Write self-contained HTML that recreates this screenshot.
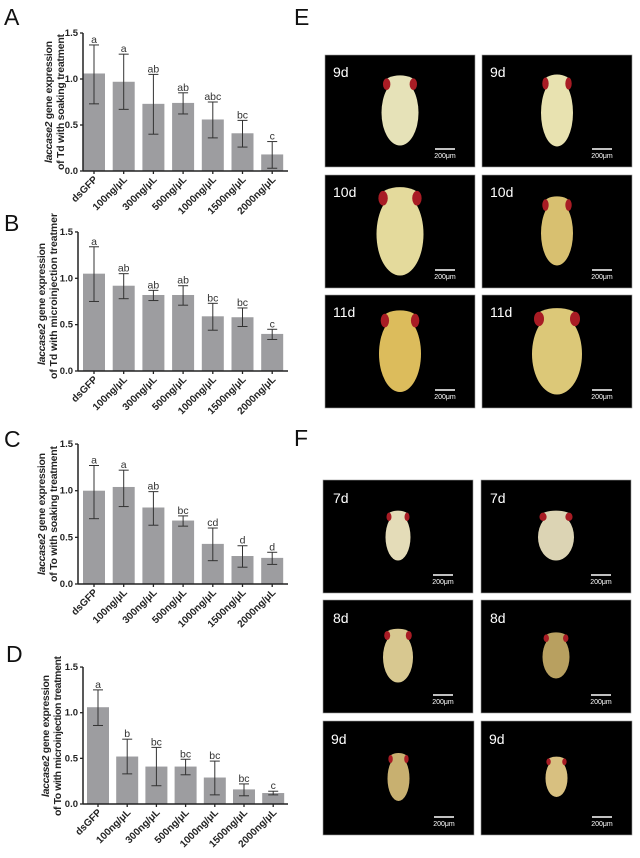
<!DOCTYPE html>
<html><head><meta charset="utf-8"><style>
html,body{margin:0;padding:0;background:#fff;}
svg{display:block;font-family:"Liberation Sans",Arial,sans-serif;}
.yt text{font-size:9.5px;font-weight:bold;text-anchor:end;fill:#222;}
.xl text{font-size:10px;font-weight:bold;text-anchor:end;fill:#222;}
.lt text{font-size:10.5px;text-anchor:middle;fill:#333;}
.yl{font-size:10.5px;font-weight:bold;text-anchor:middle;fill:#222;}
.pl{font-size:23px;fill:#111;}
.ph{font-size:14px;fill:#fff;}
.sb{font-size:7px;fill:#fff;text-anchor:middle;}
</style></head><body>
<svg id="s" width="640" height="858" viewBox="0 0 640 858">
<text class="pl" x="4" y="25">A</text>
<text class="pl" x="4" y="231">B</text>
<text class="pl" x="4" y="447">C</text>
<text class="pl" x="6" y="662">D</text>
<text class="pl" x="294" y="25">E</text>
<text class="pl" x="294" y="446">F</text>

<g id="c0"><g class="yt"><text>0.0</text><text>0.5</text><text>1.0</text><text>1.5</text></g>
<g class="xl"><text>dsGFP</text><text>100ng/μL</text><text>300ng/μL</text><text>500ng/μL</text><text>1000ng/μL</text><text>1500ng/μL</text><text>2000ng/μL</text></g>
<g class="lt"><text>a</text><text>a</text><text>ab</text><text>ab</text><text>abc</text><text>bc</text><text>c</text></g>
<text class="yl" transform="translate(52,102) rotate(-90)" textLength="122"><tspan font-style="italic">laccase2</tspan> gene expression</text>
<text class="yl" transform="translate(64,102) rotate(-90)" textLength="136">of Td with soaking treatment</text></g>

<g id="c1"><g class="yt"><text>0.0</text><text>0.5</text><text>1.0</text><text>1.5</text></g>
<g class="xl"><text>dsGFP</text><text>100ng/μL</text><text>300ng/μL</text><text>500ng/μL</text><text>1000ng/μL</text><text>1500ng/μL</text><text>2000ng/μL</text></g>
<g class="lt"><text>a</text><text>ab</text><text>ab</text><text>ab</text><text>bc</text><text>bc</text><text>c</text></g>
<text class="yl" transform="translate(45,304) rotate(-90)" textLength="122"><tspan font-style="italic">laccase2</tspan> gene expression</text>
<text class="yl" transform="translate(57,296) rotate(-90)" textLength="166">of Td with microinjection treatmer</text></g>

<g id="c2"><g class="yt"><text>0.0</text><text>0.5</text><text>1.0</text><text>1.5</text></g>
<g class="xl"><text>dsGFP</text><text>100ng/μL</text><text>300ng/μL</text><text>500ng/μL</text><text>1000ng/μL</text><text>1500ng/μL</text><text>2000ng/μL</text></g>
<g class="lt"><text>a</text><text>a</text><text>ab</text><text>bc</text><text>cd</text><text>d</text><text>d</text></g>
<text class="yl" transform="translate(45,514) rotate(-90)" textLength="122"><tspan font-style="italic">laccase2</tspan> gene expression</text>
<text class="yl" transform="translate(57,514) rotate(-90)" textLength="136">of To with soaking treatment</text></g>

<g id="c3"><g class="yt"><text>0.0</text><text>0.5</text><text>1.0</text><text>1.5</text></g>
<g class="xl"><text>dsGFP</text><text>100ng/μL</text><text>300ng/μL</text><text>500ng/μL</text><text>1000ng/μL</text><text>1500ng/μL</text><text>2000ng/μL</text></g>
<g class="lt"><text>a</text><text>b</text><text>bc</text><text>bc</text><text>bc</text><text>bc</text><text>c</text></g>
<text class="yl" transform="translate(49,736) rotate(-90)" textLength="122"><tspan font-style="italic">laccase2</tspan> gene expression</text>
<text class="yl" transform="translate(61,736) rotate(-90)" textLength="160">of To with microinjection treatment</text></g>

<g id="photos">
<text class="ph" x="333" y="77">9d</text><text class="ph" x="490" y="77">9d</text>
<text class="ph" x="333" y="197">10d</text><text class="ph" x="490" y="197">10d</text>
<text class="ph" x="333" y="317">11d</text><text class="ph" x="490" y="317">11d</text>
<text class="ph" x="333" y="503">7d</text><text class="ph" x="490" y="503">7d</text>
<text class="ph" x="333" y="623">8d</text><text class="ph" x="490" y="623">8d</text>
<text class="ph" x="331" y="744">9d</text><text class="ph" x="489" y="744">9d</text>
</g>
<g id="sbs">
<text class="sb">200μm</text><text class="sb">200μm</text><text class="sb">200μm</text><text class="sb">200μm</text><text class="sb">200μm</text><text class="sb">200μm</text>
<text class="sb">200μm</text><text class="sb">200μm</text><text class="sb">200μm</text><text class="sb">200μm</text><text class="sb">200μm</text><text class="sb">200μm</text>
</g>
</svg>
<script>
var NS="http://www.w3.org/2000/svg",S=document.getElementById("s");
function el(t,a,p){var e=document.createElementNS(NS,t);for(var k in a)e.setAttribute(k,a[k]);(p||S).appendChild(e);return e;}
var C=[
{y0:171,k:92,ax:83,cx:94,dx:29.7,v:[1.06,0.97,0.73,0.74,0.56,0.41,0.18],t:[1.37,1.27,1.05,0.85,0.75,0.55,0.32],b:[0.73,0.67,0.40,0.62,0.36,0.26,0.03]},
{y0:371,k:92.7,ax:78,cx:94,dx:29.7,v:[1.05,0.92,0.82,0.82,0.59,0.58,0.40],t:[1.34,1.05,0.87,0.92,0.73,0.68,0.45],b:[0.75,0.78,0.76,0.71,0.44,0.48,0.34]},
{y0:584,k:93.3,ax:78,cx:94,dx:29.7,v:[1.0,1.04,0.82,0.68,0.43,0.30,0.28],t:[1.27,1.22,0.99,0.73,0.60,0.41,0.34],b:[0.70,0.83,0.63,0.62,0.25,0.18,0.21]},
{y0:804,k:91.3,ax:83,cx:98,dx:29.2,v:[1.06,0.52,0.41,0.41,0.29,0.16,0.12],t:[1.25,0.71,0.62,0.49,0.47,0.22,0.14],b:[0.86,0.33,0.20,0.32,0.10,0.09,0.10]}];
C.forEach(function(c,ci){
 var g=document.getElementById("c"+ci),Y=function(v){return c.y0-v*c.k;};
 var yt=g.querySelector(".yt").children,xl=g.querySelector(".xl").children,lt=g.querySelector(".lt").children;
 for(var i=0;i<4;i++){var y=Y(i*0.5);yt[i].setAttribute("x",c.ax-5);yt[i].setAttribute("y",y+3);el("line",{x1:c.ax-3,x2:c.ax,y1:y,y2:y,stroke:"#222","stroke-width":1.3});}
 for(var i=0;i<7;i++){var x=c.cx+c.dx*i;
  el("rect",{x:x-11,y:Y(c.v[i]),width:22,height:c.v[i]*c.k,fill:"#9d9da0"});
  el("line",{x1:x,x2:x,y1:Y(c.t[i]),y2:Y(c.b[i]),stroke:"#333","stroke-width":1});
  el("line",{x1:x-5,x2:x+5,y1:Y(c.t[i]),y2:Y(c.t[i]),stroke:"#333","stroke-width":1});
  el("line",{x1:x-5,x2:x+5,y1:Y(c.b[i]),y2:Y(c.b[i]),stroke:"#333","stroke-width":1});
  el("line",{x1:x,x2:x,y1:c.y0,y2:c.y0+3,stroke:"#222","stroke-width":1.3});
  lt[i].setAttribute("x",x);lt[i].setAttribute("y",Y(c.t[i])-2);
  xl[i].setAttribute("transform","translate("+(x+4)+","+(c.y0+9)+") rotate(-45)");}
 el("line",{x1:c.ax,x2:c.ax,y1:Y(1.5),y2:c.y0,stroke:"#222","stroke-width":1.5});
 el("line",{x1:c.ax,x2:288,y1:c.y0,y2:c.y0,stroke:"#222","stroke-width":1.5});
});
var P=[[325,55,150,112],[482,55,150,112],[325,175,150,113],[482,175,150,113],[325,295,150,113],[482,295,150,113],
[323,480,150,113],[481,480,150,113],[323,600,150,113],[481,600,150,113],[323,721,151,114],[481,721,151,114]];
var pup=[[37,73,"#e6e2b8"],[32,75,"#e8e2b0"],[47,92,"#e4da9c"],[32,72,"#d8c070"],[42,85,"#dcbc5c"],[50,90,"#dcc878"],
[25,52,"#e4dcb8"],[36,52,"#dcd4b4"],[30,56,"#d8c890"],[27,48,"#b8a060"],[22,50,"#c8b070"],[22,42,"#d8c080"]];
var bg=document.createElementNS(NS,"g");S.insertBefore(bg,document.getElementById("photos"));
var sb=document.getElementById("sbs").children;
P.forEach(function(p,i){
 el("rect",{x:p[0],y:p[1],width:p[2],height:p[3],fill:"#000",stroke:"#999","stroke-width":0.6},bg);
 var q=pup[i],cx=p[0]+p[2]/2,cy=p[1]+p[3]/2-2,w=q[0],h=q[1];
 el("ellipse",{cx:cx,cy:cy+h*0.05,rx:w/2,ry:h*0.45,fill:q[2]},bg);
 el("ellipse",{cx:cx,cy:cy-h*0.36,rx:w*0.42,ry:h*0.1,fill:q[2]},bg);
 el("ellipse",{cx:cx-w*0.36,cy:cy-h*0.34,rx:w*0.1,ry:h*0.08,fill:"#a81c24"},bg);
 el("ellipse",{cx:cx+w*0.36,cy:cy-h*0.34,rx:w*0.1,ry:h*0.08,fill:"#a81c24"},bg);
 var sx=p[0]+p[2]-30;
 el("line",{x1:sx-10,x2:sx+10,y1:p[1]+p[3]-18,y2:p[1]+p[3]-18,stroke:"#fff","stroke-width":1.5},bg);
 sb[i].setAttribute("x",sx);sb[i].setAttribute("y",p[1]+p[3]-9);
});
</script>
</body></html>
